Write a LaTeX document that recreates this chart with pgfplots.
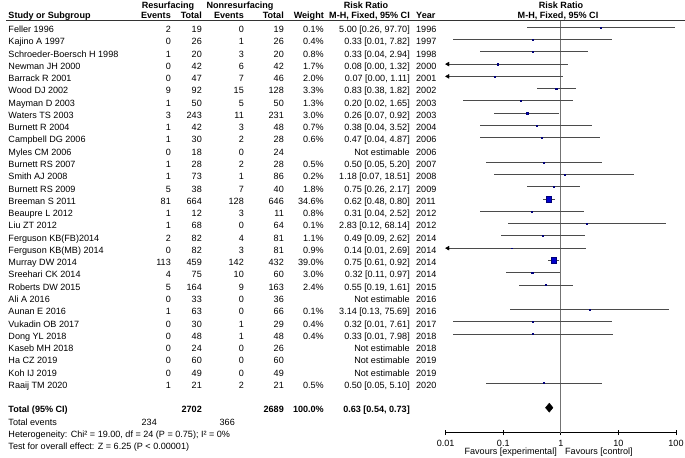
\documentclass[border=0pt]{standalone}
\usepackage{fontspec}
\setmainfont{Liberation Sans}
\usepackage{pgfplots}
\usepackage{pgfplotstable}
\pgfplotsset{compat=1.18}

\definecolor{sqblue}{RGB}{0,0,205}
\definecolor{ciline}{RGB}{75,75,75}
\definecolor{refline}{RGB}{115,115,115}

% row  RR  lower  upper  weight(%)
\pgfplotstableread{
row rr lo hi w
0 5.00 0.26 97.70 0.1
1 0.33 0.0133 7.82 0.4
2 0.33 0.04 2.94 0.8
3 0.08 0.00 1.32 1.7
4 0.07 0.00 1.11 2.0
5 0.83 0.38 1.82 3.3
6 0.20 0.02 1.65 1.3
7 0.26 0.07 0.92 3.0
8 0.38 0.04 3.52 0.7
9 0.47 0.04 4.87 0.6
11 0.50 0.05 5.20 0.5
12 1.18 0.07 18.51 0.2
13 0.75 0.26 2.17 1.8
14 0.62 0.48 0.80 34.6
15 0.31 0.04 2.52 0.8
16 2.83 0.12 68.14 0.1
17 0.49 0.09 2.62 1.1
18 0.14 0.00 2.69 0.9
19 0.75 0.61 0.92 39.0
20 0.32 0.11 0.97 3.0
21 0.55 0.19 1.61 2.4
23 3.14 0.13 75.69 0.1
24 0.32 0.0134 7.61 0.4
25 0.33 0.0134 7.98 0.4
29 0.50 0.05 5.10 0.5
}\forestdata

% rows whose interval runs off the left end of the scale (arrow at 0.01)
\pgfplotstableread{
row ax
3 0.0109
4 0.0109
18 0.0109
}\arrowrows

\newcommand\fs{\fontsize{9.1}{10.5}\selectfont}
\newcommand\ry[1]{32.55+12.27*#1}

\newcommand\study[9]{%
  \node[anchor=base west] at (8.3,{\ry{#1}}) {#2};
  \node[anchor=base east] at (171,{\ry{#1}}) {#3};
  \node[anchor=base east] at (202,{\ry{#1}}) {#4};
  \node[anchor=base east] at (244,{\ry{#1}}) {#5};
  \node[anchor=base east] at (284,{\ry{#1}}) {#6};
  \node[anchor=base east] at (324,{\ry{#1}}) {#7};
  \node[anchor=base east] at (410,{\ry{#1}}) {#8};
  \node[anchor=base west] at (416,{\ry{#1}}) {#9};
}

\begin{document}
\begin{tikzpicture}[x=1bp,y=-1bp,inner sep=0pt,font=\fs]
\useasboundingbox (0,0) rectangle (685,458);
\coordinate (axpos) at (445.7,432.7);

% ---- header ----
\node[anchor=base,font=\fs\bfseries] at (168,8.2) {Resurfacing};
\node[anchor=base,font=\fs\bfseries] at (240,8.2) {Nonresurfacing};
\node[anchor=base,font=\fs\bfseries] at (366,8.2) {Risk Ratio};
\node[anchor=base,font=\fs\bfseries] at (561,8.2) {Risk Ratio};
\node[anchor=base west,font=\fs\bfseries] at (8.3,18.9) {Study or Subgroup};
\node[anchor=base east,font=\fs\bfseries] at (171,18.9) {Events};
\node[anchor=base east,font=\fs\bfseries] at (202,18.9) {Total};
\node[anchor=base east,font=\fs\bfseries] at (244,18.9) {Events};
\node[anchor=base east,font=\fs\bfseries] at (284,18.9) {Total};
\node[anchor=base east,font=\fs\bfseries] at (324,18.9) {Weight};
\node[anchor=base east,font=\fs\bfseries] at (410,18.9) {M-H, Fixed, 95\% CI};
\node[anchor=base west,font=\fs\bfseries] at (416,18.9) {Year};
\node[anchor=base,font=\fs\bfseries] at (558,18.9) {M-H, Fixed, 95\% CI};
\draw[line width=0.8bp,black!80] (6,20.8) -- (685,20.8);

% ---- studies ----
\study{0}{Feller 1996}{2}{19}{0}{19}{0.1\%}{5.00 [0.26, 97.70]}{1996}
\study{1}{Kajino A 1997}{0}{26}{1}{26}{0.4\%}{0.33 [0.01, 7.82]}{1997}
\study{2}{Schroeder-Boersch H 1998}{1}{20}{3}{20}{0.8\%}{0.33 [0.04, 2.94]}{1998}
\study{3}{Newman JH 2000}{0}{42}{6}{42}{1.7\%}{0.08 [0.00, 1.32]}{2000}
\study{4}{Barrack R 2001}{0}{47}{7}{46}{2.0\%}{0.07 [0.00, 1.11]}{2001}
\study{5}{Wood DJ 2002}{9}{92}{15}{128}{3.3\%}{0.83 [0.38, 1.82]}{2002}
\study{6}{Mayman D 2003}{1}{50}{5}{50}{1.3\%}{0.20 [0.02, 1.65]}{2003}
\study{7}{Waters TS 2003}{3}{243}{11}{231}{3.0\%}{0.26 [0.07, 0.92]}{2003}
\study{8}{Burnett R 2004}{1}{42}{3}{48}{0.7\%}{0.38 [0.04, 3.52]}{2004}
\study{9}{Campbell DG 2006}{1}{30}{2}{28}{0.6\%}{0.47 [0.04, 4.87]}{2006}
\study{10}{Myles CM 2006}{0}{18}{0}{24}{}{Not estimable}{2006}
\study{11}{Burnett RS 2007}{1}{28}{2}{28}{0.5\%}{0.50 [0.05, 5.20]}{2007}
\study{12}{Smith AJ 2008}{1}{73}{1}{86}{0.2\%}{1.18 [0.07, 18.51]}{2008}
\study{13}{Burnett RS 2009}{5}{38}{7}{40}{1.8\%}{0.75 [0.26, 2.17]}{2009}
\study{14}{Breeman S 2011}{81}{664}{128}{646}{34.6\%}{0.62 [0.48, 0.80]}{2011}
\study{15}{Beaupre L 2012}{1}{12}{3}{11}{0.8\%}{0.31 [0.04, 2.52]}{2012}
\study{16}{Liu ZT 2012}{1}{68}{0}{64}{0.1\%}{2.83 [0.12, 68.14]}{2012}
\study{17}{Ferguson KB(FB)2014}{2}{82}{4}{81}{1.1\%}{0.49 [0.09, 2.62]}{2014}
\study{18}{Ferguson KB(MB) 2014}{0}{82}{3}{81}{0.9\%}{0.14 [0.01, 2.69]}{2014}
\study{19}{Murray DW 2014}{113}{459}{142}{432}{39.0\%}{0.75 [0.61, 0.92]}{2014}
\study{20}{Sreehari CK 2014}{4}{75}{10}{60}{3.0\%}{0.32 [0.11, 0.97]}{2014}
\study{21}{Roberts DW 2015}{5}{164}{9}{163}{2.4\%}{0.55 [0.19, 1.61]}{2015}
\study{22}{Ali A 2016}{0}{33}{0}{36}{}{Not estimable}{2016}
\study{23}{Aunan E 2016}{1}{63}{0}{66}{0.1\%}{3.14 [0.13, 75.69]}{2016}
\study{24}{Vukadin OB 2017}{0}{30}{1}{29}{0.4\%}{0.32 [0.01, 7.61]}{2017}
\study{25}{Dong YL 2018}{0}{48}{1}{48}{0.4\%}{0.33 [0.01, 7.98]}{2018}
\study{26}{Kaseb MH 2018}{0}{24}{0}{26}{}{Not estimable}{2018}
\study{27}{Ha CZ 2019}{0}{60}{0}{60}{}{Not estimable}{2019}
\study{28}{Koh IJ 2019}{0}{49}{0}{49}{}{Not estimable}{2019}
\study{29}{Raaij TM 2020}{1}{21}{2}{21}{0.5\%}{0.50 [0.05, 5.10]}{2020}

% ---- totals ----
\node[anchor=base west,font=\fs\bfseries] at (8.3,{\ry{31}}) {Total (95\% CI)};
\node[anchor=base east,font=\fs\bfseries] at (202,{\ry{31}}) {2702};
\node[anchor=base east,font=\fs\bfseries] at (284,{\ry{31}}) {2689};
\node[anchor=base east,font=\fs\bfseries] at (324,{\ry{31}}) {100.0\%};
\node[anchor=base east,font=\fs\bfseries] at (410,{\ry{31}}) {0.63 [0.54, 0.73]};
\node[anchor=base west] at (8.3,{\ry{32}}) {Total events};
\node[anchor=base east] at (157,{\ry{32}}) {234};
\node[anchor=base east] at (235,{\ry{32}}) {366};
\node[anchor=base west] at (8.3,{\ry{33}}) {Heterogeneity: Chi² = 19.00, df = 24 (P = 0.75); I² = 0\%};
\node[anchor=base west] at (8.3,{\ry{34}}) {Test for overall effect: Z = 6.25 (P < 0.00001)};

\node[anchor=base east] at (557,454.3) {Favours [experimental]};
\node[anchor=base west] at (565,454.3) {Favours [control]};

% ---- forest plot ----
\begin{axis}[
  at={(axpos)}, anchor=south west,
  scale only axis, width=230.3bp, height=411.9bp,
  xmode=log, xmin=0.01, xmax=100,
  ymin=-33.04, ymax=0.53,
  clip=false,
  axis y line=none, axis x line*=bottom,
  axis line style={black, line width=0.8bp},
  xtick={0.01,0.1,1,10,100},
  xticklabels={0.01,0.1,1,10,100},
  xminorticks=false,
  xtick align=center, major tick length=5bp,
  tick style={black, line width=0.8bp},
  /pgf/number format/assume math mode=true,
  xticklabel style={font=\fs, anchor=base, yshift=-11.4bp},
]
  \addplot[refline, line width=0.9bp] coordinates {(1,0.53) (1,-33.04)};

  \addplot[draw=none, mark=none,
    error bars/.cd, x dir=both, x explicit, error mark=none,
    error bar style={draw=ciline, line width=0.9bp, solid}]
    table[x=rr, y expr=-\thisrow{row},
      x error plus expr={\thisrow{hi}-\thisrow{rr}},
      x error minus expr={\thisrow{rr}-max(\thisrow{lo},0.01)}] {\forestdata};

  \addplot[only marks, mark=triangle*, mark size=2.3bp,
    mark options={rotate=90, fill=black, draw=black}]
    table[x=ax, y expr=-\thisrow{row}] {\arrowrows};

  \addplot[scatter, only marks, mark=square*,
    scatter/use mapped color={draw=sqblue!60!black, fill=sqblue},
    visualization depends on={{max(0.45,2.9*sqrt(\thisrow{w}/39))} \as \msz},
    scatter/@pre marker code/.append style={/tikz/mark size=\msz bp, /tikz/line width=0.3bp}]
    table[x=rr, y expr=-\thisrow{row}] {\forestdata};

  \addplot[fill=black, draw=black] coordinates
    {(0.54,-31) (0.63,-30.63) (0.73,-31) (0.63,-31.37)} -- cycle;
\end{axis}
\end{tikzpicture}
\end{document}
